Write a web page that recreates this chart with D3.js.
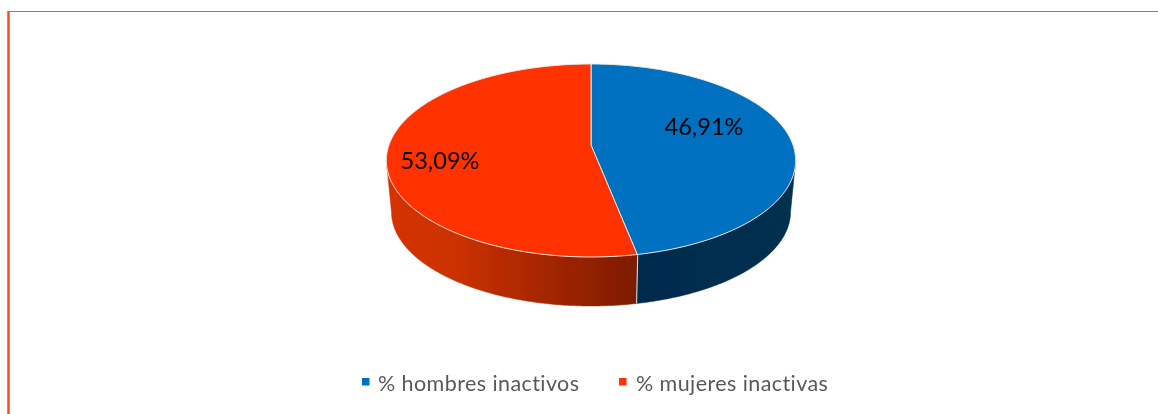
<!DOCTYPE html>
<html><head><meta charset="utf-8">
<script src="https://cdn.jsdelivr.net/npm/d3@7"></script>
<style>
html,body{margin:0;padding:0;background:#fff;overflow:hidden}
svg{display:block}
text{font-family:Lato,"Open Sans",sans-serif}
</style></head><body>
<script>
const categories = ["% hombres inactivos", "% mujeres inactivas"];
const values = [46.91, 53.09];
const topColors = ["#0070C0", "#FF3300"];

const W = 1158, H = 414;
const svg = d3.select("body").append("svg").attr("width", W).attr("height", H);
const defs = svg.append("defs");
defs.append("filter").attr("id","soft").attr("x","-5%").attr("y","-5%").attr("width","110%").attr("height","110%")
  .append("feGaussianBlur").attr("stdDeviation",0.5);
defs.append("filter").attr("id","softText").attr("x","-5%").attr("y","-20%").attr("width","110%").attr("height","140%")
  .append("feGaussianBlur").attr("stdDeviation",0.3);

const redGrad = defs.append("linearGradient").attr("id","sideRed")
  .attr("gradientUnits","userSpaceOnUse").attr("x1",386).attr("x2",638).attr("y1",0).attr("y2",0);
[[0,"#D63300"],[0.3,"#C93000"],[0.6,"#A82700"],[1,"#7C1B00"]].forEach(s=>redGrad.append("stop").attr("offset",s[0]).attr("stop-color",s[1]));
const blueGrad = defs.append("linearGradient").attr("id","sideBlue")
  .attr("gradientUnits","userSpaceOnUse").attr("x1",638).attr("x2",796).attr("y1",0).attr("y2",0);
[[0,"#002B4C"],[0.6,"#002E50"],[1,"#00304F"]].forEach(s=>blueGrad.append("stop").attr("offset",s[0]).attr("stop-color",s[1]));
const sideFill = ["url(#sideBlue)","url(#sideRed)"];

// frame
svg.append("rect").attr("x",8).attr("width",W-8).attr("y",11).attr("height",1).attr("fill","#EE5A36");
svg.append("line").attr("x1",8.5).attr("x2",8.5).attr("y1",11).attr("y2",H).attr("stroke","#FF4A1C").attr("stroke-width",2.5);

// perspective disc projection
const cx = 591, cyTop = 145, cyBase = 196.8, fx = 202, fy = 94, k = 0.1606, baseScale = 0.975;
function proj(theta, r, cy, sc) {
  const w = 1 + k * r * Math.cos(theta);
  return [cx + sc * fx * r * Math.sin(theta) / w, cy - sc * fy * r * Math.cos(theta) / w];
}
const pieGen = d3.pie().sort(null).value(d => d);
const arcs = pieGen(values);
const lineGen = d3.line();
const sampled = (a, b) => { const n = Math.max(2, Math.ceil(Math.abs(b-a)/0.01)); return d3.range(n+1).map(i => a + (b-a)*i/n); };

const pie = svg.append("g").attr("filter","url(#soft)");
const silR = Math.acos(-k), silL = 2*Math.PI - silR;

// walls
arcs.forEach((a,i) => {
  const s = Math.max(a.startAngle, silR), e = Math.min(a.endAngle, silL);
  const pts = sampled(s,e).map(t=>proj(t,1,cyTop,1)).concat(sampled(e,s).map(t=>proj(t,1,cyBase,baseScale)));
  pie.append("path").attr("d", lineGen(pts)+"Z").attr("fill", sideFill[i]).attr("stroke", sideFill[i]).attr("stroke-width",0.5);
});
// wall seam
const seam = arcs[0].endAngle;
pie.append("line")
  .attr("x1",proj(seam,1,cyTop,1)[0]+0.5).attr("y1",proj(seam,1,cyTop,1)[1])
  .attr("x2",proj(seam,1,cyBase,baseScale)[0]+0.5).attr("y2",proj(seam,1,cyBase,baseScale)[1])
  .attr("stroke","#E4E4E4").attr("stroke-width",1);

// top faces
arcs.forEach((a,i) => {
  const pts = [[cx,cyTop]].concat(sampled(a.startAngle,a.endAngle).map(t=>proj(t,1,cyTop,1)));
  pie.append("path").attr("d", lineGen(pts)+"Z").attr("fill", topColors[i])
    .attr("stroke","#EDE9E6").attr("stroke-width",1).attr("stroke-linejoin","round");
});

// labels
const fmt = d3.formatLocale({decimal:",",thousands:".",grouping:[3],currency:["","%"]}).format(".2f");
const labelDx = [113, -151], labelDy = [-18, 16];
const labels = svg.append("g").attr("filter","url(#softText)");
arcs.forEach((a,i) => {
  labels.append("text").attr("x",cx+labelDx[i]).attr("y",cyTop+labelDy[i]).attr("dy","0.35em")
    .attr("text-anchor","middle").attr("font-size",23.6).attr("fill","#000").text(fmt(a.value)+"%");
});

// legend
const legendMark = d3.scaleOrdinal().domain(categories).range([362, 619]);
const legendTextGap = [16, 17];
const legend = svg.append("g").attr("filter","url(#softText)");
categories.forEach((c,i) => {
  const x = legendMark(c);
  legend.append("rect").attr("x",x).attr("y",378).attr("width",7.5).attr("height",7.5).attr("fill",topColors[i]);
  legend.append("text").attr("x",x+legendTextGap[i]).attr("y",383).attr("dy","0.35em").attr("font-size",21.5).attr("letter-spacing",0.42).attr("fill","#595959").text(c);
});
</script></body></html>
